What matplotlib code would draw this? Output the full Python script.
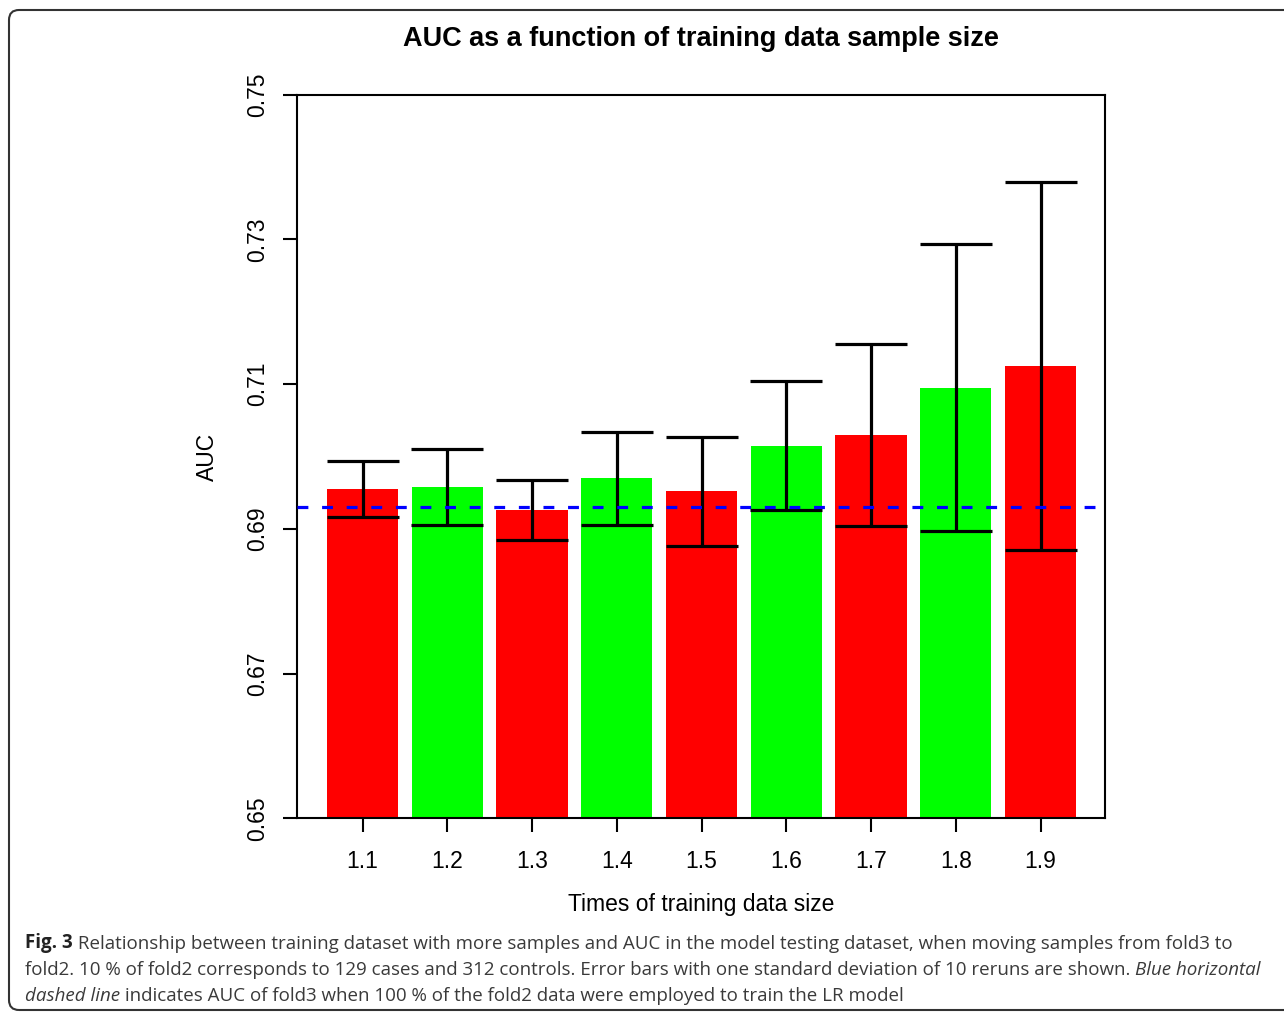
import numpy as np
import matplotlib
matplotlib.use("Agg")
import matplotlib.pyplot as plt
from matplotlib.patches import FancyBboxPatch

# data
sizes = ["1.1", "1.2", "1.3", "1.4", "1.5", "1.6", "1.7", "1.8", "1.9"]
auc_mean = [0.6955, 0.6958, 0.6926, 0.6970, 0.6952, 0.7015, 0.7030, 0.7095, 0.7125]
auc_sd = [0.0039, 0.0053, 0.0042, 0.0064, 0.0075, 0.0089, 0.0126, 0.0198, 0.0254]
fold3_full_auc = 0.6930
yticks = [0.65, 0.67, 0.69, 0.71, 0.73, 0.75]

plt.rcParams['font.family'] = ['Liberation Sans', 'DejaVu Sans']

W, H = 1284, 1014
fig = plt.figure(figsize=(W / 100, H / 100), dpi=100)
ax = fig.add_axes([297 / W, 1 - 818.3 / H, (1105 - 297) / W, (818.3 - 94.7) / H])

x = np.arange(len(sizes))
cols = ['#ff0000' if i % 2 == 0 else '#00ff00' for i in range(len(sizes))]
ax.bar(x, auc_mean, width=0.838, color=cols, zorder=1)
ax.errorbar(x, auc_mean, yerr=auc_sd, fmt='none', ecolor='black',
            elinewidth=2.3, capsize=26, capthick=2.3, zorder=2)
ax.axhline(fold3_full_auc, color='#0000ff', lw=2.3, ls=(0, (3.4, 4.3)), zorder=3)

ax.set_xlim(-0.773, 8.761)
ax.set_ylim(0.65, 0.75)
ax.set_xticks(x, sizes)
ax.set_yticks(yticks, [f"{v:.2f}" for v in yticks])
for s in ax.spines.values():
    s.set_linewidth(1.5)
ax.tick_params(axis='both', length=10, width=1.5, labelsize=16.5)
ax.tick_params(axis='x', pad=13)
ax.tick_params(axis='y', pad=10, labelrotation=90)
for lab in ax.get_yticklabels():
    lab.set_va('center')

ax.set_xlabel("Times of training data size", fontsize=16.5, va='center')
ax.xaxis.set_label_coords(0.5, -(904 - 818.3) / 723.6)
ax.set_ylabel("AUC", fontsize=16.5, va='center')
ax.yaxis.set_label_coords(-(297 - 207) / 808, 0.5)

fig.text(701 / W, 1 - 39 / H, "AUC as a function of training data sample size",
         fontsize=19.5, fontweight='bold', ha='center', va='center')

# outer frame of the figure panel
frame = FancyBboxPatch((9 / 100, (H - 1010) / 100), (1320 - 9) / 100, 1000 / 100,
                       boxstyle="round,pad=0,rounding_size=0.1",
                       transform=fig.dpi_scale_trans, fill=False,
                       edgecolor='#333333', lw=1.5)
fig.patches.append(frame)

# caption, pieces chained one after another on each line
cap_kw = dict(fontsize=13.5, color='#3a3a3a', family=['Open Sans', 'DejaVu Sans'])

def ann_after(artist, txt, kw):
    return ax.annotate(txt, xy=(1, 0), xycoords=artist, ha='left', va='bottom',
                       annotation_clip=False, **kw)

t1 = fig.text(25 / W, 1 - 948 / H, "Fig. 3", ha='left', va='baseline',
              fontweight='bold', **{**cap_kw, 'color': '#222222'})
ann_after(t1, " Relationship between training dataset with more samples and AUC in the model "
              "testing dataset, when moving samples from fold3 to", cap_kw)
t2 = fig.text(25 / W, 1 - 975 / H, "fold2. 10 % of fold2 corresponds to 129 cases and 312 "
              "controls. Error bars with one standard deviation of 10 reruns are shown. ",
              ha='left', va='baseline', **cap_kw)
ann_after(t2, "Blue horizontal", {**cap_kw, 'fontstyle': 'italic'})
t3 = fig.text(25 / W, 1 - 1001 / H, "dashed line", ha='left', va='baseline',
              fontstyle='italic', **cap_kw)
ann_after(t3, " indicates AUC of fold3 when 100 % of the fold2 data were employed to train the LR model",
          cap_kw)

fig.savefig("out.png", dpi=100)
